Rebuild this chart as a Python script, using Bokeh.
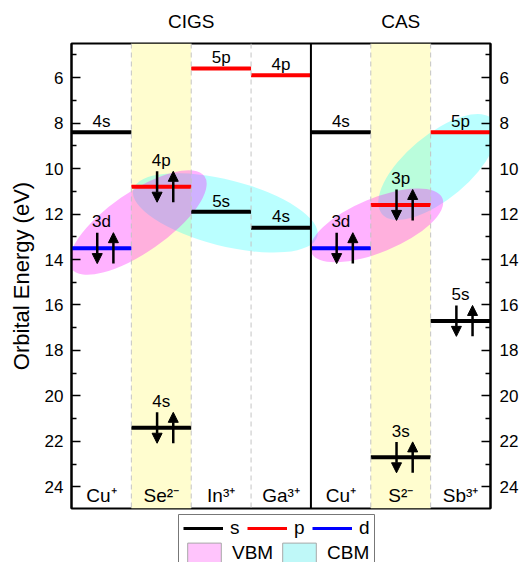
from bokeh.plotting import figure
from bokeh.layouts import column
from bokeh.models import (Range1d, LinearAxis, Arrow, NormalHead, Legend,
                          LegendItem, ColumnDataSource, Span, FixedTicker)
from bokeh.core.properties import value
from bokeh.embed import file_html
from bokeh.resources import INLINE

# ---------------- data ----------------
groups = ["CIGS", "CAS"]
group_first_col = [0, 4]
group_ncols = [4, 3]
ions = ["Cu\u207a", "Se\u00b2\u207b", "In\u00b3\u207a", "Ga\u00b3\u207a", "Cu\u207a", "S\u00b2\u207b", "Sb\u00b3\u207a"]
anion_cols = [1, 5]
level_col = [0, 0, 1, 1, 2, 2, 3, 3, 4, 4, 5, 5, 6, 6]
level_name = ["4s", "3d", "4p", "4s", "5p", "5s", "4p", "4s", "4s", "3d", "3p", "3s", "5p", "5s"]
level_energy = [8.4, 13.5, 10.8, 21.4, 5.6, 11.9, 5.9, 12.6, 8.4, 13.5, 11.6, 22.7, 8.4, 16.7]
level_paired = [0, 1, 1, 1, 0, 0, 0, 0, 0, 1, 1, 1, 0, 1]
y_ticks = [6, 8, 10, 12, 14, 16, 18, 20, 22, 24]
y_minor = [5, 7, 9, 11, 13, 15, 17, 19, 21, 23]
orbital_types = ["s", "p", "d"]
band_kinds = ["VBM", "CBM"]

# highlight regions (style): kind, center x, center y, width px, height px, angle deg
regions = [
    ("CBM", 2.57, 11.95, 190, 66, -14.3),
    ("VBM", 1.11, 12.37, 162, 60, 34.7),
    ("CBM", 6.12, 9.93, 146, 64, 40.0),
    ("VBM", 5.10, 12.50, 142, 54, 22.4),
]

FONT = "Liberation Sans"
ncol = len(ions)
Y_TOP, Y_BOT = 4.5, 24.95
FRAME_L, FRAME_R = 71, 490
orb_color = {"s": "black", "p": "#ff0000", "d": "#0000ff"}
reg_color = {"VBM": "#ff00ff", "CBM": "#00ffff"}
reg_alpha = {"VBM": 0.3, "CBM": 0.27}
reg_legend_color = {"VBM": "#ffc4fc", "CBM": "#bff8f8"}

p = figure(width=532, height=510, x_range=Range1d(0, ncol), y_range=Range1d(Y_BOT, Y_TOP),
           x_axis_type=None, y_axis_location="left", toolbar_location=None,
           output_backend="svg", min_border_left=FRAME_L, min_border_right=532 - FRAME_R,
           min_border_top=43, min_border_bottom=2)
p.grid.visible = False
p.outline_line_color = "black"
p.outline_line_width = 2
p.background_fill_color = "white"

# y axes
def style_axis(ax, standoff):
    ax.ticker = FixedTicker(ticks=y_ticks, minor_ticks=y_minor)
    ax.major_tick_in = 9
    ax.major_tick_out = 0
    ax.minor_tick_in = 5
    ax.minor_tick_out = 0
    ax.axis_line_width = 2
    ax.axis_line_color = "black"
    ax.major_tick_line_width = 1.5
    ax.minor_tick_line_width = 1.5
    ax.major_tick_line_color = "black"
    ax.minor_tick_line_color = "black"
    ax.major_label_text_font = FONT
    ax.major_label_text_font_size = "17px"
    ax.major_label_text_color = "black"
    ax.major_label_standoff = standoff

style_axis(p.yaxis[0], 8)
p.yaxis[0].axis_label = "Orbital Energy (eV)"
p.yaxis[0].axis_label_text_font = FONT
p.yaxis[0].axis_label_text_font_size = "22px"
p.yaxis[0].axis_label_text_font_style = "normal"
p.yaxis[0].axis_label_text_color = "black"
p.yaxis[0].axis_label_standoff = 8
right = LinearAxis()
style_axis(right, 9)
p.add_layout(right, "right")

# group titles as a label-only axis above
centers = [c0 + n / 2 for c0, n in zip(group_first_col, group_ncols)]
top_ax = LinearAxis(ticker=FixedTicker(ticks=centers, minor_ticks=[]),
                    major_label_overrides={c: g for c, g in zip(centers, groups)},
                    axis_line_color=None, major_tick_line_color=None, minor_tick_line_color=None,
                    major_label_text_font=FONT, major_label_text_font_size="19px",
                    major_label_text_color="black", major_label_standoff=6)
p.add_layout(top_ax, "above")

# anion bands
p.quad(left=anion_cols, right=[c + 1 for c in anion_cols], top=Y_TOP, bottom=Y_BOT,
       fill_color="#fffdcf", line_color=None, level="underlay")

# column dividers
for b in range(1, ncol):
    if b in group_first_col:
        p.add_layout(Span(location=b, dimension="height", line_color="black", line_width=2))
    else:
        p.add_layout(Span(location=b, dimension="height", line_color="#c4c4c4",
                          line_width=1, line_dash="5 4"))

# highlight ellipses
for kind, cx, cy, w, h, a in regions:
    p.ellipse(x=[cx], y=[cy], width=[w], height=[h], angle=[a], angle_units="deg",
              width_units="screen", height_units="screen",
              fill_color=reg_color[kind], fill_alpha=reg_alpha[kind], line_color=None)

# levels
for orb in orbital_types:
    idx = [i for i, n in enumerate(level_name) if n[-1] == orb]
    src = ColumnDataSource(dict(
        x0=[level_col[i] for i in idx], x1=[level_col[i] + 1 for i in idx],
        y=[level_energy[i] for i in idx]))
    p.segment(x0="x0", x1="x1", y0="y", y1="y", source=src,
              line_color=orb_color[orb], line_width=4)

# level labels
lab_x = [c + 0.5 for c in level_col]
lab_y = [e - (1.15 if pr else 0.47) for e, pr in zip(level_energy, level_paired)]
p.text(x=lab_x, y=lab_y, text=level_name, text_font=value(FONT), text_font_size="17px",
       text_align="center", text_baseline="middle", text_color="black")

# electron pair arrows
pairs = [i for i in range(len(level_name)) if level_paired[i]]
dx_down, dx_up, half = -0.07, 0.2, 0.68
down = ColumnDataSource(dict(x=[level_col[i] + 0.5 + dx_down for i in pairs],
                             ys=[level_energy[i] - half for i in pairs],
                             ye=[level_energy[i] + half for i in pairs]))
up = ColumnDataSource(dict(x=[level_col[i] + 0.5 + dx_up for i in pairs],
                           ys=[level_energy[i] + half for i in pairs],
                           ye=[level_energy[i] - half for i in pairs]))
for src in (down, up):
    p.add_layout(Arrow(end=NormalHead(size=10, fill_color="black", line_color="black", line_width=1),
                       x_start="x", y_start="ys", x_end="x", y_end="ye", source=src,
                       line_width=2.5, line_color="black"))

# ion labels
p.text(x=[c + 0.5 for c in range(ncol)], y=[24.38] * ncol, text=ions, text_font=value(FONT),
       text_font_size="19px", text_align="center", text_baseline="middle", text_color="black")

# ---------------- legend strip (canvas pixel coordinates) ----------------
LH = 52
q = figure(width=532, height=LH, x_range=Range1d(FRAME_L, FRAME_R), y_range=Range1d(LH, 0),
           x_axis_type=None, y_axis_type=None, toolbar_location=None, output_backend="svg",
           min_border_left=FRAME_L, min_border_right=532 - FRAME_R, min_border_top=0,
           min_border_bottom=0)
q.grid.visible = False
q.outline_line_color = None
q.quad(left=[178], right=[374], top=[4], bottom=[LH + 10], fill_color="white",
       line_color="#777777", line_width=1)

common = dict(orientation="horizontal", margin=0, padding=0, label_text_font=FONT,
              label_text_font_size="19px", label_text_color="black", label_width=0,
              border_line_color=None, background_fill_alpha=0)
line_x = [183, 247, 312]
for orb, lx in zip(orbital_types, line_x):
    r = q.segment(x0=[-20], x1=[-10], y0=[-20], y1=[-20], line_color=orb_color[orb], line_width=3)
    q.add_layout(Legend(items=[LegendItem(label=orb, renderers=[r])],
                        location=(lx - FRAME_L, LH - 29), glyph_width=40, glyph_height=20,
                        label_height=20, label_standoff=7, **common))
box_x = [183, 278]
for kind, bx in zip(band_kinds, box_x):
    r = q.quad(left=[-20], right=[-10], top=[-20], bottom=[-10],
               fill_color=reg_legend_color[kind], line_color="#a8a8a8")
    q.add_layout(Legend(items=[LegendItem(label=kind, renderers=[r])],
                        location=(bx - FRAME_L, LH - 56), glyph_width=42, glyph_height=26,
                        label_height=26, label_standoff=7, **common))

open("out.html", "w").write(file_html(column(p, q, spacing=0), INLINE))
